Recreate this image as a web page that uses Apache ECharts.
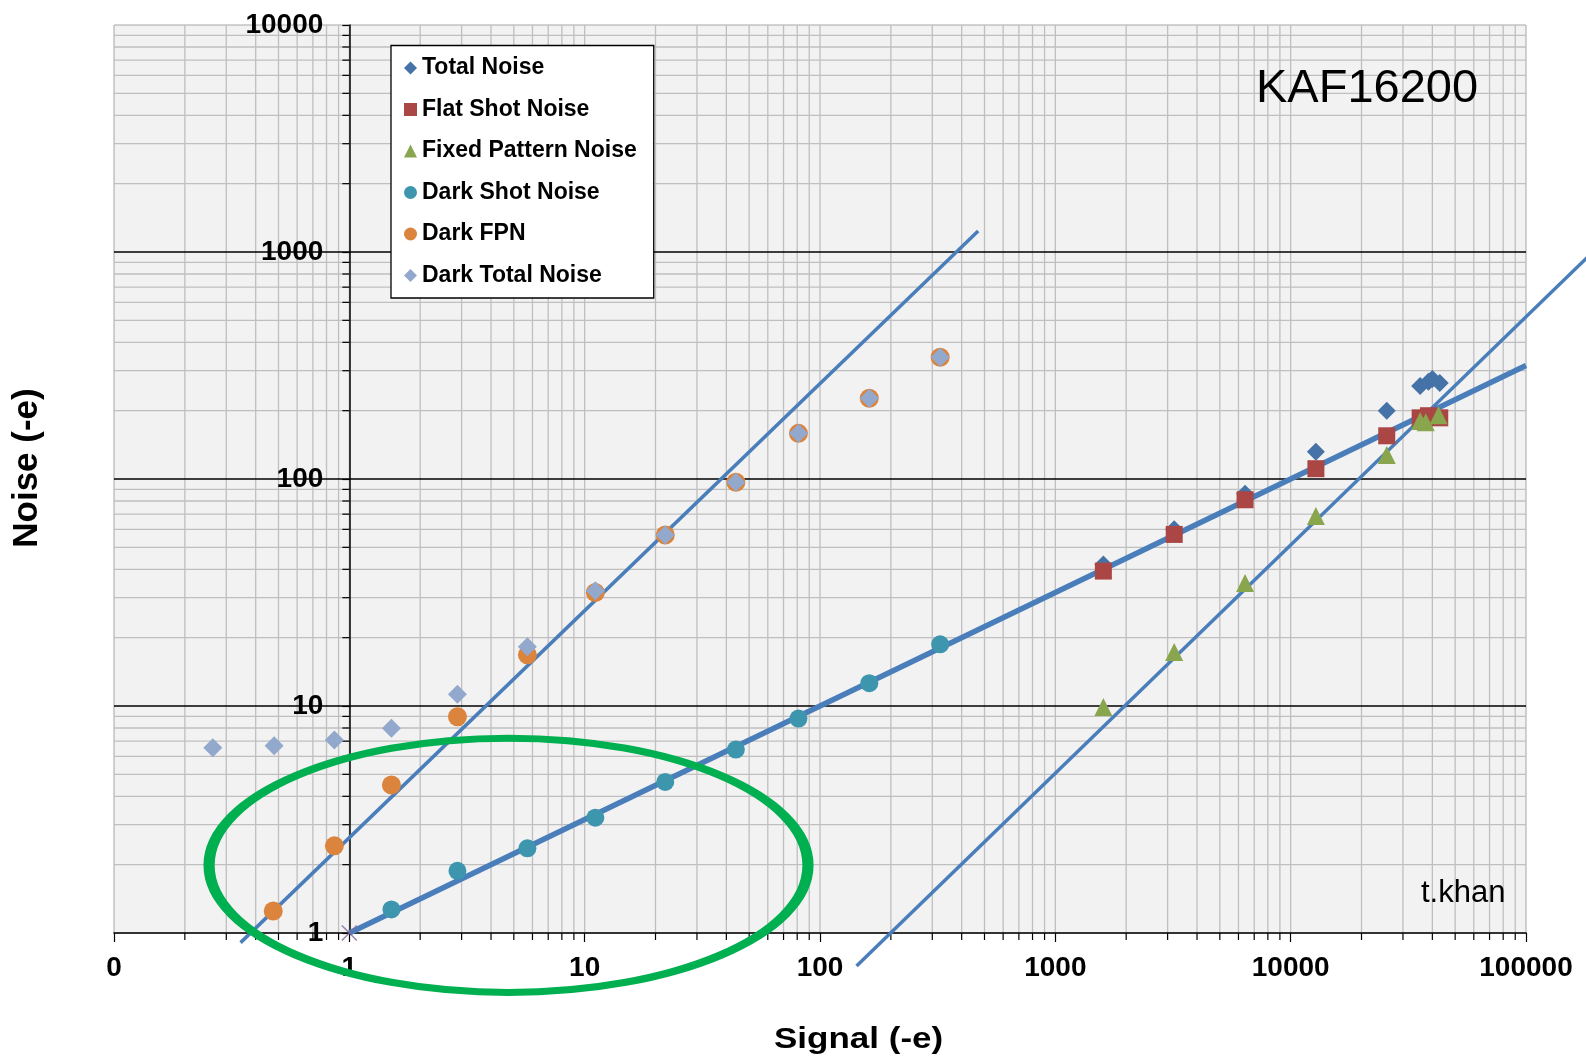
<!DOCTYPE html>
<html><head><meta charset="utf-8">
<script src="https://cdn.jsdelivr.net/npm/echarts@6/dist/echarts.min.js"></script>
<style>html,body{margin:0;padding:0;background:#fff}#c{width:1586px;height:1064px}</style>
</head><body><div id="c"></div>
<script>
// ---- axis / tick data ----
const xTickValues = [0.1, 1, 10, 100, 1000, 10000, 100000];
const xTickLabels = ['0', '1', '10', '100', '1000', '10000', '100000'];
const yTickValues = [1, 10, 100, 1000, 10000];
const yTickLabels = ['1', '10', '100', '1000', '10000'];
const minorMultipliers = [2, 3, 4, 5, 6, 7, 8, 9];

// ---- series data [signal, noise] ----
const totalNoise = [[1600, 42], [3200, 60], [6400, 86], [12800, 132], [25600, 200], [35500, 257], [38500, 268], [40000, 276], [43000, 265]];
const flatShotNoise = [[1600, 39.3], [3200, 57], [6400, 81], [12800, 111], [25600, 155], [35500, 186], [38500, 190], [43000, 186]];
const fixedPatternNoise = [[1600, 9.9], [3200, 17.3], [6400, 34.8], [12800, 68.7], [25600, 127.5], [35500, 180], [37500, 178], [42500, 191]];
const darkShotNoise = [[1.51, 1.27], [2.88, 1.88], [5.71, 2.36], [11.1, 3.22], [22, 4.63], [43.9, 6.43], [81, 8.8], [162, 12.6], [324, 18.7]];
const darkFPN = [[0.475, 1.25], [0.864, 2.42], [1.51, 4.49], [2.88, 8.97], [5.71, 16.8], [11.1, 31.6], [22, 56.7], [43.9, 96.7], [81, 158.9], [162, 226.7], [324, 343.6]];
const darkTotalNoise = [[0.263, 6.55], [0.479, 6.69], [0.864, 7.08], [1.51, 7.97], [2.88, 11.26], [5.71, 18.25], [11.1, 32.2], [22, 56.7], [43.9, 96.7], [81, 158.9], [162, 226.7], [324, 343.6]];
const originPoint = [[1, 1]];

// ---- trend lines (end points) ----
const darkFpnTrend = [[0.345, 0.907], [470, 1237]];
const shotTrend = [[1, 1], [100000, 316]];
const fpnTrend = [[143, 0.716], [200000, 1040]];

// ---- highlight ellipse bounds (data coords) ----
const ellipseX = [0.2535, 88.9];
const ellipseY = [0.547, 7.21];

const X_MIN = 0.1, X_MAX = 100000, Y_MIN = 1, Y_MAX = 10000;
const FONT = '"Liberation Sans", Arial, sans-serif';
const LINE_COLOR = '#4a7ebb';

const chart = echarts.init(document.getElementById('c'), null, {renderer: 'canvas'});

function labelFor(vals, labels, v) {
  const i = vals.findIndex(t => Math.abs(Math.log10(t) - Math.log10(v)) < 1e-6);
  return i >= 0 ? labels[i] : '';
}

function gridRender(params, api) {
  const ch = [];
  const gray = {stroke: '#bfbfbf', lineWidth: 1.3};
  const black = {stroke: '#000', lineWidth: 1.5};
  const tick = {stroke: '#000', lineWidth: 1.2};
  for (let e = -1; e < 5; e++) {
    for (const m of [1].concat(minorMultipliers)) {
      const v = m * Math.pow(10, e);
      if (v <= X_MIN * 1.0001 || v >= X_MAX * 0.9999) continue;
      const a = api.coord([v, Y_MAX]), b = api.coord([v, Y_MIN]);
      ch.push({type: 'line', shape: {x1: a[0], y1: a[1], x2: b[0], y2: b[1]}, style: gray});
      if (m !== 1) ch.push({type: 'line', shape: {x1: b[0], y1: b[1], x2: b[0], y2: b[1] + 7}, style: tick});
    }
  }
  for (let e = 0; e < 4; e++) {
    for (const m of [1].concat(minorMultipliers)) {
      const v = m * Math.pow(10, e);
      if (v <= Y_MIN * 1.0001 || v >= Y_MAX * 0.9999) continue;
      const a = api.coord([X_MIN, v]), b = api.coord([X_MAX, v]);
      ch.push({type: 'line', shape: {x1: a[0], y1: a[1], x2: b[0], y2: b[1]}, style: m === 1 ? black : gray, z2: m === 1 ? 2 : 1});
      if (m !== 1) {
        const p = api.coord([1, v]);
        ch.push({type: 'line', shape: {x1: p[0] - 7, y1: p[1], x2: p[0], y2: p[1]}, style: tick, z2: 3});
      }
    }
  }
  return {type: 'group', children: ch};
}

function segmentRender(params, api) {
  const a = api.coord([api.value(0), api.value(1)]);
  const b = api.coord([api.value(2), api.value(3)]);
  return {type: 'line', shape: {x1: a[0], y1: a[1], x2: b[0], y2: b[1]},
    style: {stroke: LINE_COLOR, lineWidth: 3.5, lineCap: 'butt'}};
}

const names = ['Total Noise', 'Flat Shot Noise', 'Fixed Pattern Noise', 'Dark Shot Noise', 'Dark FPN', 'Dark Total Noise'];

function scatter(name, data, symbol, size, color) {
  return {name, type: 'scatter', data, symbol, symbolSize: size, z: 4,
    itemStyle: {color, opacity: 1}, emphasis: {disabled: true}};
}
function trend(data, width) {
  return {type: 'line', data, clip: false, showSymbol: false, symbol: 'none', z: 3,
    lineStyle: {color: LINE_COLOR, width}, emphasis: {disabled: true}, silent: true};
}

chart.setOption({
  animation: false,
  grid: {left: 114, top: 25, width: 1412, height: 908, show: true,
    backgroundColor: '#f2f2f2', borderColor: '#a6a6a6', borderWidth: 1},
  xAxis: {
    type: 'log', logBase: 10, min: X_MIN, max: X_MAX, splitNumber: 6, z: 2,
    axisLine: {onZero: false, lineStyle: {color: '#000', width: 1.5}},
    axisTick: {show: true, length: 9, lineStyle: {color: '#000', width: 1.2}},
    axisLabel: {margin: 21, fontFamily: FONT, fontWeight: 'bold', fontSize: 28, color: '#000',
      formatter: v => labelFor(xTickValues, xTickLabels, v)},
    splitLine: {show: false}, minorTick: {show: false}
  },
  yAxis: {
    type: 'log', logBase: 10, min: Y_MIN, max: Y_MAX, splitNumber: 4, offset: -235.3, z: 2,
    axisLine: {show: true, onZero: false, lineStyle: {color: '#000', width: 1.5}},
    axisTick: {show: true, length: 7, lineStyle: {color: '#000', width: 1.2}},
    axisLabel: {margin: 26, fontFamily: FONT, fontWeight: 'bold', fontSize: 28, color: '#000',
      formatter: v => labelFor(yTickValues, yTickLabels, v)},
    splitLine: {show: false}
  },
  legend: {
    orient: 'vertical', left: 391, top: 45.5, z: 5,
    backgroundColor: '#fff', borderColor: '#000', borderWidth: 1.3,
    padding: [11, 17, 11, 13], itemGap: 18.5, itemWidth: 13, itemHeight: 13,
    textStyle: {fontFamily: FONT, fontWeight: 'bold', fontSize: 23, lineHeight: 23, color: '#000'},
    selectedMode: false,
    data: names
  },
  series: [
    {type: 'custom', coordinateSystem: 'cartesian2d', data: [[1, 1]], renderItem: gridRender,
      z: 1, silent: true, clip: false},
    trend(darkFpnTrend, 3.5),
    trend(shotTrend, 5.5),
    {type: 'custom', coordinateSystem: 'cartesian2d', z: 3, silent: true, clip: false,
      data: [[fpnTrend[0][0], fpnTrend[0][1], fpnTrend[1][0], fpnTrend[1][1]]],
      encode: {x: [0, 2], y: [1, 3]}, renderItem: segmentRender},
    scatter(names[0], totalNoise, 'diamond', 18, '#4572A7'),
    scatter(names[1], flatShotNoise, 'rect', 17, '#AA4643'),
    scatter(names[2], fixedPatternNoise, 'triangle', 18, '#89A54E'),
    scatter(names[3], darkShotNoise, 'circle', 18, '#3D96AE'),
    scatter(names[4], darkFPN, 'circle', 19, '#DB843D'),
    scatter(names[5], darkTotalNoise, 'diamond', 19, '#92A8CD'),
    {type: 'scatter', data: originPoint, symbol: 'path://M0,0L10,10M10,0L0,10', symbolSize: 15, z: 4,
      itemStyle: {color: 'none', borderColor: '#80699B', borderWidth: 1.6}, silent: true}
  ]
});

// annotations
const pL = chart.convertToPixel({gridIndex: 0}, [ellipseX[0], ellipseY[1]]);
const pR = chart.convertToPixel({gridIndex: 0}, [ellipseX[1], ellipseY[0]]);
const cx = (pL[0] + pR[0]) / 2, cy = (pL[1] + pR[1]) / 2;
const rx = Math.abs(pR[0] - pL[0]) / 2, ry = Math.abs(pR[1] - pL[1]) / 2;
const SX = 1.6;

chart.setOption({
  graphic: [
    {type: 'ellipse', x: cx, y: cy, scaleX: SX, z: 100, silent: true,
      shape: {cx: 0, cy: 0, rx: rx / SX, ry: ry},
      style: {fill: 'none', stroke: '#00B050', lineWidth: 7}},
    {type: 'text', x: 1256, y: 89, z: 100, silent: true,
      style: {text: 'KAF16200', font: '47px ' + FONT, fill: '#000', align: 'left', verticalAlign: 'middle'}},
    {type: 'text', x: 1421, y: 893, z: 100, silent: true,
      style: {text: 't.khan', font: '31px ' + FONT, fill: '#000', align: 'left', verticalAlign: 'middle'}},
    {type: 'text', x: 858.6, y: 1040, scaleY: 0.85, z: 100, silent: true,
      style: {text: 'Signal (-e)', font: 'bold 35px ' + FONT, fill: '#000', align: 'center', verticalAlign: 'middle'}},
    {type: 'text', x: 27, y: 468, rotation: Math.PI / 2, z: 100, silent: true,
      style: {text: 'Noise (-e)', font: 'bold 35px ' + FONT, fill: '#000', align: 'center', verticalAlign: 'middle'}}
  ]
});
</script>
</body></html>
